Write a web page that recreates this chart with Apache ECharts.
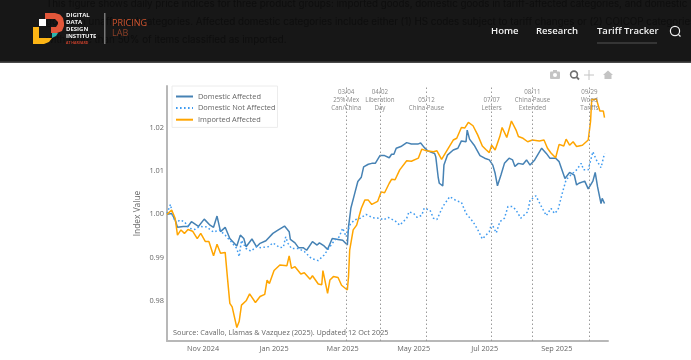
<!DOCTYPE html>
<html><head><meta charset="utf-8"><style>html,body{margin:0;padding:0;background:#fff}#c{width:691px;height:360px;filter:blur(0.45px)}</style>
<script src="https://cdn.jsdelivr.net/npm/echarts@6/dist/echarts.min.js"></script></head><body><div id="c"></div>
<script>
const startDate = '2024-10-01';
const importedDays = [0,4,7,9,12,15,18,22,26,29,33,36,40,43,46,50,52,54,56,60,62,64,68,71,76,80,84,86,88,92,97,103,105,107,110,115,118,123,125,130,133,134,138,140,143,147,150,155,156,157,158,160,163,167,170,173,176,181,184,187,191,193,196,200,206,210,216,219,223,229,232,236,240,246,249,253,256,259,263,267,271,274,277,279,282,286,288,292,296,300,302,306,310,314,320,324,327,330,334,337,341,343,346,349,352,357,362,364,365,369,372,375,376];
const importedValues = [1.000,1.001,.9991,.9952,.9964,.9956,.9965,.9961,.9944,.9956,.9937,.9937,.9904,.9931,.991,.9912,.9852,.9794,.9786,.9738,.9752,.979,.98,.9816,.9796,.981,.9815,.9848,.984,.987,.9883,.9881,.9904,.9875,.9879,.9862,.9865,.985,.9858,.9839,.9837,.987,.9817,.9848,.9856,.9854,.9836,.9825,.9856,.9917,.9933,.9964,.9975,1.0014,1.0033,1.0033,1.0023,1.003,1.0052,1.005,1.0072,1.0081,1.008,1.0103,1.0124,1.0123,1.013,1.0151,1.0147,1.0145,1.0147,1.0127,1.0145,1.0172,1.0176,1.0201,1.02,1.0213,1.0205,1.0184,1.0158,1.015,1.0143,1.016,1.0149,1.018,1.0201,1.0178,1.0216,1.0195,1.018,1.0176,1.0168,1.0172,1.017,1.0172,1.0153,1.0142,1.0131,1.0162,1.0158,1.0174,1.016,1.0168,1.0157,1.016,1.0172,1.0215,1.0265,1.0267,1.0239,1.0239,1.0224];
const domesticAffectedDays = [0,4,7,9,14,18,21,27,32,37,40,43,46,50,54,60,63,66,68,73,77,80,85,91,95,101,105,106,110,113,117,120,125,129,131,135,138,142,147,151,155,156,158,161,164,167,169,173,176,179,183,187,191,193,195,197,201,206,210,216,218,221,224,230,231,233,234,237,238,241,246,250,253,257,258,260,264,269,273,277,280,282,284,287,290,294,297,299,302,306,309,312,316,322,326,329,334,337,342,346,350,352,354,359,362,366,368,370,373,374,376];
const domesticAffectedValues = [1.000,1.0002,.9987,.997,.9972,.9972,.9983,.9972,.9989,.9975,.997,.9996,.996,.997,.9944,.9927,.9952,.9944,.9925,.9943,.9925,.9933,.9939,.9956,.9963,.9973,.996,.9942,.9934,.9923,.9923,.9917,.9937,.9929,.9934,.9927,.9919,.9944,.9942,.994,.9929,.9971,1.0014,1.0045,1.0076,1.0086,1.011,1.0116,1.0118,1.0118,1.0136,1.0136,1.0131,1.0139,1.0139,1.0153,1.0157,1.0166,1.0163,1.0163,1.0165,1.0155,1.0147,1.0141,1.0133,1.0087,1.0072,1.0066,1.0114,1.0137,1.0149,1.0153,1.017,1.0168,1.0195,1.0174,1.016,1.0136,1.013,1.0126,1.0114,1.0095,1.0066,1.0091,1.0118,1.013,1.0126,1.0111,1.0118,1.0116,1.0126,1.0114,1.0126,1.0153,1.0141,1.013,1.013,1.0122,1.0083,1.0097,1.0091,1.0068,1.0072,1.0077,1.0059,1.0077,1.0097,1.0064,1.0025,1.0037,1.0025];
const domesticNotAffectedDays = [0,3,5,8,11,15,19,24,28,34,40,45,50,55,60,62,64,68,72,77,80,87,91,97,100,102,104,107,113,118,124,130,135,140,144,148,151,154,157,161,166,171,177,183,186,190,196,200,206,208,212,215,219,221,226,229,232,237,243,249,253,257,263,267,271,277,279,283,286,290,293,297,300,304,310,312,317,321,326,330,333,336,340,343,347,352,356,358,362,366,369,373,376];
const domesticNotAffectedValues = [1.0002,1.0023,.9995,.998,.9987,.9983,.9968,.9965,.9972,.9971,.9959,.9964,.9952,.9937,.9921,.9902,.994,.9921,.9915,.9925,.9923,.9925,.9934,.9923,.9924,.9948,.9933,.9921,.9921,.9914,.9898,.9893,.9906,.9925,.994,.9948,.9968,.9948,.9975,.9987,.9991,1.000,.9992,.9991,.9987,.9993,.9985,.9975,.9991,1.0006,1.0002,.9993,.9998,1.0014,1.001,.9991,.9988,1.0018,1.0041,1.0031,1.0028,1.0002,.9983,.9965,.9943,.996,.9979,.9957,.9983,.9991,1.0018,1.0018,1.001,.9991,1.0006,1.0033,1.0043,1.0022,.9997,1.0014,1.0002,1.001,1.0052,1.008,1.0091,1.0103,1.0118,1.0103,1.0103,1.0145,1.0126,1.0108,1.0141];
const eventDates = ['2025-03-04','2025-04-02','2025-05-12','2025-07-07','2025-08-11','2025-09-29'];
const eventLabels = ['03/04\n25% Mex\nCan/China','04/02\nLiberation\nDay','05/12\nChina Pause','07/07\nLetters','08/11\nChina Pause\nExtended','09/29\nWood\nTariffs'];
const xTickDates = ['2024-11-01','2025-01-01','2025-03-01','2025-05-01','2025-07-01','2025-09-01'];
const xTickLabels = ['Nov 2024','Jan 2025','Mar 2025','May 2025','Jul 2025','Sep 2025'];
const yTicks = [0.98,0.99,1.00,1.01,1.02];
const seriesNames = ['Domestic Affected','Domestic Not Affected','Imported Affected'];
const sourceNote = 'Source: Cavallo, Llamas & Vazquez (2025). Updated 12 Oct 2025';
const introLines = ['This figure shows daily price indices for three product groups: imported goods, domestic goods in tariff-affected categories, and domestic','goods in unaffected categories. Affected domestic categories include either (1) HS codes subject to tariff changes or (2) COICOP categories','with more than 50% of items classified as imported.'];

const DAY = 86400000, t0 = Date.parse(startDate);
const pairs = (d, v) => d.map((x, i) => [t0 + x * DAY, v[i]]);
const ts = s => Date.parse(s);
const font = '"Open Sans", sans-serif';
const txt = (x, y, text, size, fill, weight, family) => ({type:'text', silent:true, x, y, style:{text, font:`${weight||'normal'} ${size}px ${family||font}`, fill, textVerticalAlign:'middle'}});
const rect = (x,y,w,h,fill,r) => ({type:'rect', silent:true, shape:{x,y,width:w,height:h,r:r||0}, style:{fill}});
const poly = (points, fill) => ({type:'polygon', silent:true, shape:{points}, style:{fill}});
const modeGray = '#c4c4c4';
const graphics = [
  rect(0,0,691,62,'#171717'), rect(0,61.5,691,1.5,'#4a4a4a'),
  ...introLines.map((l,i)=>txt(46,4+i*18,l,9.8,'#0e0e0e','normal','Inter')),
  poly([[45,13],[55,13],[60,14.5],[63,18],[64,23],[64,26],[62,31],[57,33],[51,33],[51,27],[56,27],[58,24],[58,22],[55,19],[45,19]],'#e2573a'),
  poly([[33,27],[39,27],[39,38],[52,38],[49,42],[44,44],[33,44]],'#fdb515'),
  poly([[52,33],[58,33],[56,36],[52,38]],'#2bb5ad'),
  rect(39,19,7,7,'#ffffff'),
  txt(66,15.5,'DIGITAL',6,'#f0f0f0','bold'), txt(66,22.5,'DATA',6,'#f0f0f0','bold'), txt(66,29.5,'DESIGN',6,'#f0f0f0','bold'), txt(66,36.5,'INSTITUTE',6,'#f0f0f0','bold'), txt(66,42.5,'AT HARVARD',3.5,'#c8402c','bold'),
  rect(104,13,1.5,31,'#777'),
  txt(112,23.5,'PRICING',9,'#d2552f','normal'), txt(112,33,'LAB',9,'#8d4028','normal'),
  txt(491,31,'Home',9.5,'#f4f4f4','600'), txt(536,31,'Research',9.5,'#f4f4f4','600'), txt(597,31,'Tariff Tracker',9.5,'#f4f4f4','600'),
  rect(597,42.5,60,1,'#555'),
  {type:'circle', silent:true, shape:{cx:675,cy:31,r:4.6}, style:{fill:'none',stroke:'#f0f0f0',lineWidth:1.2}},
  {type:'line', silent:true, shape:{x1:678.3,y1:34.3,x2:680.5,y2:36.5}, style:{stroke:'#f0f0f0',lineWidth:1.2}},
  rect(550,71.5,10,7.5,modeGray,1), rect(553,70,4,2,modeGray),
  {type:'circle', silent:true, shape:{cx:555,cy:75,r:2}, style:{fill:'#fff'}},
  {type:'circle', silent:true, shape:{cx:574,cy:74.5,r:3.4}, style:{fill:'none',stroke:'#707070',lineWidth:1.6}},
  {type:'line', silent:true, shape:{x1:576.5,y1:77,x2:579,y2:79.5}, style:{stroke:'#707070',lineWidth:1.8}},
  {type:'line', silent:true, shape:{x1:584,y1:75,x2:594,y2:75}, style:{stroke:modeGray,lineWidth:1}},
  {type:'line', silent:true, shape:{x1:589,y1:70,x2:589,y2:80}, style:{stroke:modeGray,lineWidth:1}},
  poly([[603,75],[608,70.5],[613,75],[611.5,75],[611.5,79],[604.5,79],[604.5,75]],modeGray),
  txt(173,333,sourceNote,7.3,'#666')
];

const chart = echarts.init(document.getElementById('c'), null, {renderer:'canvas'});
chart.setOption({
  animation:false, backgroundColor:'#fff',
  textStyle:{fontFamily:font},
  grid:{left:167, top:86, width:441, height:255},
  legend:{show:true, orient:'vertical', left:172, top:86, padding:[7,2,4.2,3], itemWidth:17, itemHeight:1, itemGap:4.6, align:'left',
    itemStyle:{opacity:0},
    borderColor:'#ececec', borderWidth:1, backgroundColor:'#fff',
    textStyle:{fontSize:7.4, color:'#666', fontFamily:font},
    data:seriesNames},
  xAxis:{type:'value', min:t0, max:t0+379*DAY,
    axisLine:{show:true, onZero:false, lineStyle:{color:'#b8b8b8', width:2}}, axisTick:{show:false}, splitLine:{show:false},
    axisLabel:{customValues:xTickDates.map(ts), fontSize:7.3, color:'#666', margin:4, hideOverlap:false,
      formatter:v=>xTickLabels[xTickDates.map(ts).indexOf(v)]||''}},
  yAxis:{type:'value', min:0.9707, max:1.0297, name:'Index Value', nameLocation:'middle', nameGap:25, nameMoveOverlap:false, nameTextStyle:{fontSize:8.4, color:'#666'},
    axisLine:{show:true, onZero:false, lineStyle:{color:'#b8b8b8', width:2}}, axisTick:{show:false}, splitLine:{show:false},
    axisLabel:{customValues:yTicks, fontSize:7.4, color:'#666', margin:3, formatter:v=>v.toFixed(2)}},
  series:[
    {name:seriesNames[0], type:'line', symbol:'none', showSymbol:false, data:pairs(domesticAffectedDays,domesticAffectedValues), lineStyle:{color:'#4682B4',width:1.5}, itemStyle:{color:'#4682B4'}, z:3,
     markLine:{silent:true, symbol:'none', animation:false, lineStyle:{color:'#9a9a9a',type:[1.5,2.5],width:1},
       data:eventDates.map((d,i)=>({xAxis:ts(d), label:{formatter:eventLabels[i]}})),
       label:{show:true, position:'end', distance:-26, fontSize:6.2, lineHeight:8, color:'#888', fontFamily:font, align:'center'}}},
    {name:seriesNames[1], type:'line', symbol:'none', showSymbol:false, data:pairs(domesticNotAffectedDays,domesticNotAffectedValues), lineStyle:{color:'#3f9bf0',width:1.5,type:[1.6,2.4]}, itemStyle:{color:'#3f9bf0'}, z:3},
    {name:seriesNames[2], type:'line', symbol:'none', showSymbol:false, data:pairs(importedDays,importedValues), lineStyle:{color:'#FFA500',width:1.5}, itemStyle:{color:'#FFA500'}, z:4}
  ],
  graphic:{elements:graphics}
});
</script></body></html>
